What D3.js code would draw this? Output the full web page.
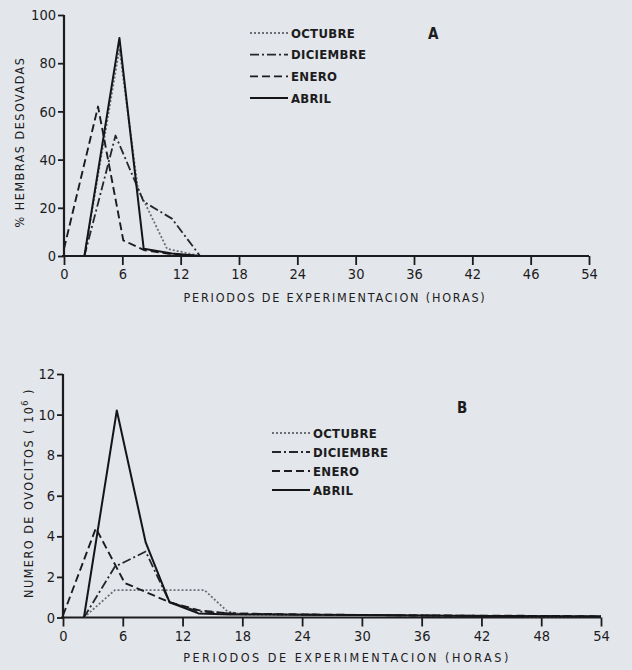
<!DOCTYPE html>
<html>
<head>
<script src="https://d3js.org/d3.v7.min.js"></script>
<style>
  body { margin: 0; background: #e3e6ea; }
  svg { display: block; }
  text { font-family: "DejaVu Sans Condensed", "Liberation Sans Narrow", sans-serif; fill: #1c1c1e; }
</style>
</head>
<body>
<div id="graph"></div>
<script>
// series names (legend order)
const months = ["OCTUBRE", "DICIEMBRE", "ENERO", "ABRIL"];

// panel A: % hembras desovadas, [hours, value]
const octubreA   = [[2.1, 0], [5.7, 86], [7.6, 28], [10.6, 3], [14, 0]];
const diciembreA = [[2.1, 0], [5.3, 50], [8.2, 22.5], [11.1, 15.5], [14, 0]];
const eneroA     = [[0, 3], [3.5, 62], [6.1, 6.5], [8.2, 2.5], [11, 0.8], [14, 0]];
const abrilA     = [[2.1, 0], [5.7, 90.5], [8.2, 3], [11.1, 1], [14, 0]];

// panel B: numero de ovocitos (10^6), [hours, value]
const octubreB   = [[2.1, 0], [5.2, 1.35], [14.2, 1.35], [16.5, 0.3], [18, 0.15], [30, 0.1], [42, 0.07], [54, 0.05]];
const diciembreB = [[2.1, 0], [5.2, 2.5], [8.3, 3.25], [10.7, 0.75], [13.6, 0.3], [16.7, 0.2], [24, 0.14], [36, 0.1], [48, 0.07], [54, 0.05]];
const eneroB     = [[0, 0.1], [3.3, 4.4], [6.2, 1.7], [10.7, 0.75], [13.7, 0.35], [16.7, 0.2], [24, 0.15], [36, 0.1], [48, 0.08], [54, 0.06]];
const abrilB     = [[2.1, 0], [5.4, 10.2], [8.3, 3.7], [10.7, 0.75], [13.6, 0.2], [16.7, 0.15], [30, 0.12], [42, 0.08], [54, 0.05]];

// tick labels
const xTicks = [0, 6, 12, 18, 24, 30, 36, 42, 48, 54];
const xLabelsA = ["0", "6", "12", "18", "24", "30", "36", "42", "46", "54"];
const xLabelsB = ["0", "6", "12", "18", "24", "30", "36", "42", "48", "54"];
const yTicksA = [0, 20, 40, 60, 80, 100];
const yTicksB = [0, 2, 4, 6, 8, 10, 12];

const styles = {
  OCTUBRE:   { dash: "2,2", color: "#6b6e74", width: 1.8 },
  DICIEMBRE: { dash: "9,3,2,3", color: "#26272c", width: 1.8 },
  ENERO:     { dash: "8,4", color: "#1c1c20", width: 1.9 },
  ABRIL:     { dash: null, color: "#151518", width: 2 }
};

const svg = d3.select("#graph").append("svg")
  .attr("width", 632).attr("height", 670);

function panel(cfg) {
  const x = d3.scaleLinear().domain([0, 54]).range(cfg.xRange);
  const y = d3.scaleLinear().domain([0, cfg.yMax]).range(cfg.yRange);

  const xAxis = svg.append("g")
    .attr("transform", `translate(0,${cfg.yRange[0]})`)
    .call(d3.axisBottom(x).tickValues(xTicks)
      .tickFormat((d, i) => cfg.xLabels[i]).tickSize(9).tickPadding(4));
  const yAxis = svg.append("g")
    .attr("transform", `translate(${cfg.xRange[0]},0)`)
    .call(d3.axisLeft(y).tickValues(cfg.yTicks).tickSize(6).tickPadding(2));

  [xAxis, yAxis].forEach(a => {
    a.select(".domain").attr("stroke", "#1c1c1e").attr("stroke-width", 2.2);
    a.selectAll(".tick line").attr("stroke", "#1c1c1e").attr("stroke-width", 1.8);
    a.selectAll(".tick text").style("font-size", "14.5px").attr("fill", "#1c1c1e");
  });
  // plain axis lines without end caps
  xAxis.select(".domain").attr("d", `M${cfg.xRange[0] - 2},0H${cfg.xRange[1]}`);
  yAxis.select(".domain").attr("d", `M0,${cfg.yRange[1]}V${cfg.yRange[0]}`);

  const line = d3.line().x(d => x(d[0])).y(d => y(d[1]));
  cfg.series.forEach((s, i) => {
    const st = styles[months[i]];
    svg.append("path")
      .datum(s)
      .attr("fill", "none")
      .attr("stroke", st.color)
      .attr("stroke-width", st.width)
      .attr("stroke-dasharray", st.dash)
      .attr("stroke-linejoin", "round")
      .attr("d", line);
  });

  // legend
  const lg = svg.append("g").attr("transform", `translate(${cfg.legend[0]},${cfg.legend[1]})`);
  months.forEach((m, i) => {
    const st = styles[m];
    lg.append("line")
      .attr("x1", 0).attr("x2", cfg.legendLen)
      .attr("y1", i * cfg.legendStep).attr("y2", i * cfg.legendStep)
      .attr("stroke", st.color).attr("stroke-width", st.width)
      .attr("stroke-dasharray", st.dash);
    lg.append("text")
      .attr("x", cfg.legendLen + 3).attr("y", i * cfg.legendStep)
      .attr("dy", "0.36em")
      .style("font-size", "13px").style("font-weight", "bold").style("letter-spacing", "0.3px")
      .text(m);
  });

  svg.append("text")
    .attr("x", cfg.tag[0]).attr("y", cfg.tag[1])
    .style("font-size", "15px").style("font-weight", "bold")
    .text(cfg.tagText);

  svg.append("text")
    .attr("x", cfg.xTitle[0]).attr("y", cfg.xTitle[1])
    .attr("text-anchor", "middle")
    .style("font-size", "12.5px").style("letter-spacing", cfg.xTitleSpacing)
    .text("PERIODOS DE EXPERIMENTACION (HORAS)");

  const yt = svg.append("text")
    .attr("transform", `translate(${cfg.yTitle[0]},${cfg.yTitle[1]}) rotate(-90)`)
    .attr("text-anchor", "middle")
    .style("font-size", "12.5px").style("letter-spacing", "1.5px");
  cfg.yTitleText(yt);
}

panel({
  xRange: [64, 589], yRange: [256, 15], yMax: 100,
  xLabels: xLabelsA, yTicks: yTicksA,
  series: [octubreA, diciembreA, eneroA, abrilA],
  legend: [250, 33], legendLen: 38, legendStep: 21.7,
  tag: [428, 39], tagText: "A",
  xTitle: [335, 302], xTitleSpacing: "1.8px",
  yTitle: [24, 142],
  yTitleText: t => t.text("% HEMBRAS DESOVADAS")
});

panel({
  xRange: [63, 601], yRange: [617.5, 374], yMax: 12,
  xLabels: xLabelsB, yTicks: yTicksB,
  series: [octubreB, diciembreB, eneroB, abrilB],
  legend: [272, 433], legendLen: 38, legendStep: 19,
  tag: [457, 413], tagText: "B",
  xTitle: [347, 662], xTitleSpacing: "2.5px",
  yTitle: [33, 493],
  yTitleText: t => {
    t.append("tspan").text("NUMERO DE OVOCITOS ( 10");
    t.append("tspan").attr("baseline-shift", "super").style("font-size", "9px").text("6");
    t.append("tspan").text(" )");
  }
});
</script>
</body>
</html>
